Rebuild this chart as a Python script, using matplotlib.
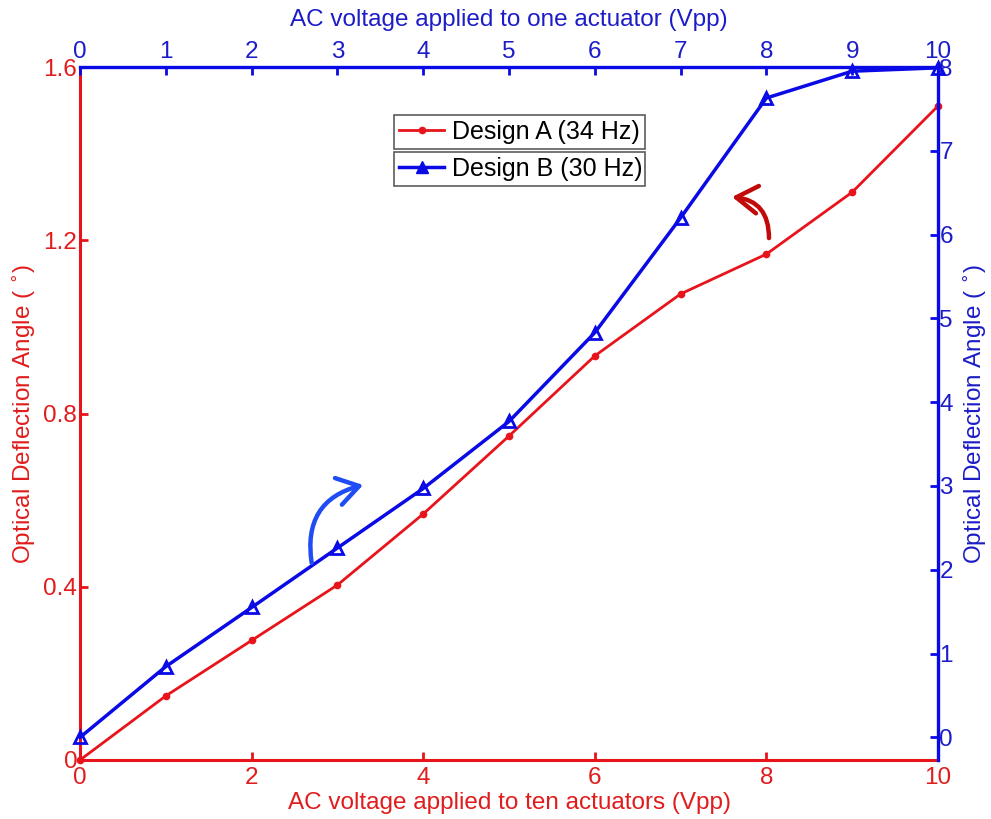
import matplotlib
matplotlib.use("Agg")
import matplotlib.pyplot as plt
from matplotlib.patches import FancyArrowPatch
from matplotlib.lines import Line2D

plt.rcParams['font.family'] = ['Liberation Sans', 'DejaVu Sans']

# Voltage steps (Vpp)
volts = [0, 1, 2, 3, 4, 5, 6, 7, 8, 9, 10]
# Design A: ten actuators driven together (left axis, degrees)
design_a = [0.0, 0.148, 0.276, 0.404, 0.568, 0.748, 0.933, 1.076, 1.168, 1.311, 1.51]
# Design B: one actuator driven (right axis, degrees)
design_b = [0.0, 0.845, 1.55, 2.26, 2.97, 3.77, 4.83, 6.2, 7.63, 7.95, 7.99]

bottom_ticks = [0, 2, 4, 6, 8, 10]
left_ticks = [0, 0.4, 0.8, 1.2, 1.6]
left_ticklabels = ['0', '0.4', '0.8', '1.2', '1.6']
top_ticks = list(range(0, 11))
right_ticks = list(range(0, 9))

RED = '#e8141b'
RED_TXT = '#e01c1c'
BLUE = '#0a0ae6'
BLUE_TXT = '#1c1cc8'
FS = 17.5

fig = plt.figure(figsize=(9.91, 8.19), dpi=100)
rect = [80 / 991, 1 - 760 / 819, (938 - 80) / 991, (760 - 67) / 819]

ax = fig.add_axes(rect)
ax.set_xlim(0, 10)
ax.set_ylim(0, 1.6)
for s in ['top', 'right']:
    ax.spines[s].set_visible(False)
for s in ['left', 'bottom']:
    ax.spines[s].set_color(RED)
    ax.spines[s].set_linewidth(2.2)
ax.set_xticks(bottom_ticks)
ax.set_yticks(left_ticks)
ax.set_yticklabels(left_ticklabels)
ax.tick_params(direction='in', length=6, width=2, colors=RED, labelcolor=RED_TXT,
               labelsize=FS)
ax.tick_params(axis='y', pad=2)
ax.tick_params(axis='x', pad=5)
ax.set_xlabel('AC voltage applied to ten actuators (Vpp)', color=RED_TXT, fontsize=FS,
              labelpad=2)
ax.set_ylabel('Optical Deflection Angle ( $^{\\circ}$)', color=RED_TXT, fontsize=FS,
              labelpad=4)
line_a, = ax.plot(volts, design_a, color=RED, lw=2, marker='o', ms=4.5,
                  mfc=RED, mec=RED, clip_on=False, zorder=3)

ax2 = fig.add_axes(rect, frameon=True)
ax2.patch.set_visible(False)
ax2.set_xlim(0, 10)
ax2.set_ylim(-0.27, 8)
for s in ['left', 'bottom']:
    ax2.spines[s].set_visible(False)
for s in ['top', 'right']:
    ax2.spines[s].set_color(BLUE)
    ax2.spines[s].set_linewidth(2.4)
ax2.xaxis.tick_top()
ax2.xaxis.set_label_position('top')
ax2.yaxis.tick_right()
ax2.yaxis.set_label_position('right')
ax2.set_xticks(top_ticks)
ax2.set_yticks(right_ticks)
ax2.tick_params(direction='in', length=6, width=2, colors=BLUE, labelcolor=BLUE_TXT,
                labelsize=FS)
ax2.tick_params(axis='y', pad=1)
ax2.tick_params(axis='x', pad=3)
ax2.set_xlabel('AC voltage applied to one actuator (Vpp)', color=BLUE_TXT, fontsize=FS,
               labelpad=11)
ax2.set_ylabel('Optical Deflection Angle ( $^{\\circ}$)', color=BLUE_TXT, fontsize=FS,
               labelpad=6)
line_b, = ax2.plot(volts, design_b, color=BLUE, lw=2.5, marker='^', ms=9,
                   mfc='none', mec=BLUE, mew=2, clip_on=False, zorder=3)

# Curved arrows pointing each curve to its axis
arrow_kw = dict(transform=ax.transData, mutation_scale=22, lw=3.2, zorder=5,
                shrinkA=0, shrinkB=0, capstyle='round')
arr_b = FancyArrowPatch((2.70, 0.455), (3.30, 0.635),
                        connectionstyle='arc3,rad=-0.45',
                        arrowstyle='->,head_length=0.7,head_width=0.45',
                        color='#1f4cf5', **arrow_kw)
arr_a = FancyArrowPatch((8.03, 1.205), (7.60, 1.30),
                        connectionstyle='arc3,rad=0.45',
                        arrowstyle='->,head_length=0.7,head_width=0.45',
                        color='#c30a0a', **arrow_kw)
fig.add_artist(arr_b)
fig.add_artist(arr_a)

# Stacked legend boxes
leg_kw = dict(loc='upper left', mode='expand', fontsize=18, frameon=True,
              fancybox=False, handlelength=1.8, handletextpad=0.3,
              borderaxespad=0, borderpad=0.2, edgecolor='#333333',
              bbox_transform=fig.transFigure)
x0 = 394 / 991
w = (645 - 394) / 991
leg1 = ax2.legend([Line2D([], [], color=RED, lw=2, marker='o', ms=4.5)],
                  ['Design A (34 Hz)'],
                  bbox_to_anchor=(x0, 1 - 152 / 819, w, 37 / 819), **leg_kw)
leg1.get_frame().set_linewidth(1.2)
ax2.add_artist(leg1)
leg2 = ax2.legend([Line2D([], [], color=BLUE, lw=2.5, marker='^', ms=8)],
                  ['Design B (30 Hz)'],
                  bbox_to_anchor=(x0, 1 - 185 / 819, w, 33 / 819), **leg_kw)
leg2.get_frame().set_linewidth(1.2)

fig.savefig('out.png', dpi=100)
